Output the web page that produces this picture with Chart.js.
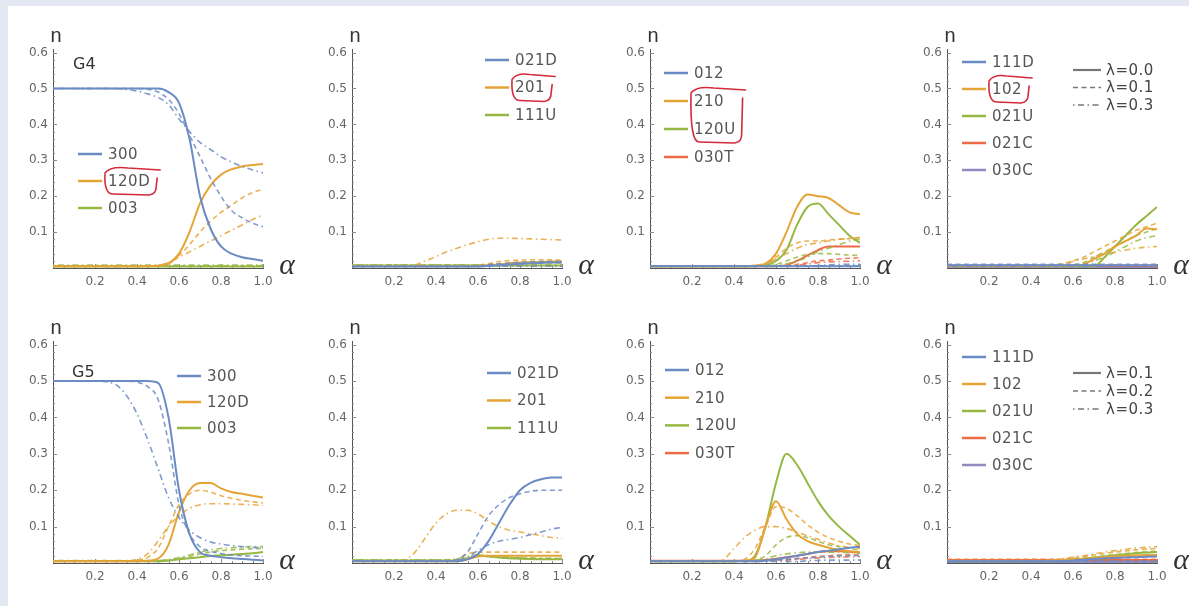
<!DOCTYPE html>
<html>
<head>
<meta charset="utf-8">
<script src="https://cdn.jsdelivr.net/npm/chart.js@4.4.1/dist/chart.umd.min.js"></script>
<style>
html, body { margin: 0; padding: 0; }
body { width: 1189px; height: 606px; background: #e4e8f2; position: relative; overflow: hidden; }
#sheet { position: absolute; left: 8px; top: 6px; right: 0; bottom: 0; background: #fff; }
canvas { position: absolute; }
</style>
</head>
<body>
<div id="sheet"></div>
<canvas id="c0"></canvas><canvas id="c1"></canvas><canvas id="c2"></canvas><canvas id="c3"></canvas>
<canvas id="c4"></canvas><canvas id="c5"></canvas><canvas id="c6"></canvas><canvas id="c7"></canvas>
<script>
// alpha grid and ticks
const alpha = [0, 0.05, 0.1, 0.15, 0.2, 0.25, 0.3, 0.35, 0.4, 0.45, 0.5, 0.55, 0.6, 0.65, 0.7, 0.75, 0.8, 0.85, 0.9, 0.95, 1.0];
const xTicks = [0.2, 0.4, 0.6, 0.8, 1.0];
const yTicks = [0.1, 0.2, 0.3, 0.4, 0.5, 0.6];
const lambdaRow1 = ['λ=0.0', 'λ=0.1', 'λ=0.3'];
const lambdaRow2 = ['λ=0.1', 'λ=0.2', 'λ=0.3'];
const panelTitles = ['G4', 'G5'];

// categories per column
const catsA = ['300', '120D', '003'];
const catsB = ['021D', '201', '111U'];
const catsC = ['012', '210', '120U', '030T'];
const catsD = ['111D', '102', '021U', '021C', '030C'];

// each series: [solid, dashed, dot-dashed]
// ---- G4 ----
const g4_300 = [
  [0.5,0.5,0.5,0.5,0.5,0.5,0.5,0.5,0.5,0.5,0.5,0.49,0.46,0.36,0.2,0.11,0.06,0.04,0.03,0.025,0.02],
  [0.5,0.5,0.5,0.5,0.5,0.5,0.5,0.5,0.5,0.498,0.49,0.47,0.43,0.37,0.31,0.25,0.2,0.16,0.14,0.125,0.115],
  [0.5,0.5,0.5,0.5,0.5,0.5,0.5,0.497,0.493,0.485,0.475,0.455,0.415,0.38,0.35,0.33,0.31,0.295,0.283,0.273,0.265]
];
const g4_120D = [
  [0.005,0.005,0.005,0.005,0.005,0.005,0.005,0.005,0.005,0.005,0.006,0.012,0.04,0.1,0.18,0.23,0.26,0.275,0.283,0.287,0.29],
  [0.005,0.005,0.005,0.005,0.005,0.005,0.005,0.005,0.005,0.005,0.007,0.015,0.035,0.065,0.1,0.13,0.155,0.175,0.195,0.21,0.22],
  [0.005,0.005,0.005,0.005,0.005,0.005,0.005,0.005,0.005,0.005,0.007,0.015,0.03,0.045,0.06,0.075,0.09,0.105,0.12,0.135,0.148]
];
const g4_003 = [
  [0.004,0.004,0.004,0.004,0.004,0.004,0.004,0.004,0.004,0.004,0.004,0.004,0.004,0.004,0.004,0.004,0.004,0.004,0.004,0.004,0.004],
  [0.006,0.006,0.006,0.006,0.006,0.006,0.006,0.006,0.006,0.006,0.006,0.006,0.006,0.006,0.006,0.006,0.006,0.006,0.006,0.006,0.006],
  [0.008,0.008,0.008,0.008,0.008,0.008,0.008,0.008,0.008,0.008,0.008,0.008,0.008,0.008,0.008,0.008,0.008,0.008,0.008,0.008,0.008]
];
const g4_021D = [
  [0.004,0.004,0.004,0.004,0.004,0.004,0.004,0.004,0.004,0.004,0.004,0.004,0.004,0.006,0.008,0.01,0.012,0.013,0.014,0.015,0.015],
  [0.004,0.004,0.004,0.004,0.004,0.004,0.004,0.004,0.004,0.004,0.004,0.004,0.006,0.009,0.012,0.014,0.016,0.017,0.018,0.018,0.018],
  [0.005,0.005,0.005,0.005,0.005,0.005,0.005,0.005,0.005,0.005,0.005,0.005,0.005,0.005,0.005,0.005,0.005,0.005,0.005,0.005,0.005]
];
const g4_201 = [
  [0.005,0.005,0.005,0.005,0.005,0.005,0.005,0.005,0.005,0.005,0.005,0.005,0.005,0.008,0.01,0.013,0.015,0.016,0.017,0.018,0.018],
  [0.005,0.005,0.005,0.005,0.005,0.005,0.005,0.005,0.005,0.005,0.005,0.005,0.008,0.012,0.018,0.021,0.022,0.023,0.023,0.023,0.022],
  [0.005,0.005,0.005,0.005,0.005,0.005,0.008,0.02,0.032,0.045,0.055,0.065,0.073,0.08,0.083,0.083,0.082,0.081,0.08,0.079,0.078]
];
const g4_111U = [
  [0.007,0.007,0.007,0.007,0.007,0.007,0.007,0.007,0.007,0.007,0.007,0.007,0.007,0.007,0.007,0.007,0.007,0.007,0.007,0.007,0.007],
  [0.008,0.008,0.008,0.008,0.008,0.008,0.008,0.008,0.008,0.008,0.008,0.008,0.008,0.01,0.012,0.013,0.014,0.014,0.014,0.014,0.014],
  [0.009,0.009,0.009,0.009,0.009,0.009,0.009,0.009,0.009,0.009,0.009,0.009,0.009,0.009,0.009,0.009,0.009,0.009,0.009,0.009,0.009]
];
const g4_012 = [
  [0.005,0.005,0.005,0.005,0.005,0.005,0.005,0.005,0.005,0.005,0.005,0.005,0.005,0.005,0.005,0.005,0.005,0.005,0.005,0.005,0.005],
  [0.006,0.006,0.006,0.006,0.006,0.006,0.006,0.006,0.006,0.006,0.006,0.006,0.006,0.006,0.006,0.006,0.006,0.006,0.006,0.006,0.006],
  [0.005,0.005,0.005,0.005,0.005,0.005,0.005,0.005,0.005,0.005,0.005,0.005,0.005,0.005,0.005,0.005,0.007,0.009,0.01,0.01,0.01]
];
const g4_210 = [
  [0.005,0.005,0.005,0.005,0.005,0.005,0.005,0.005,0.005,0.005,0.006,0.012,0.04,0.1,0.17,0.205,0.2,0.195,0.175,0.155,0.15],
  [0.005,0.005,0.005,0.005,0.005,0.005,0.005,0.005,0.005,0.005,0.007,0.01,0.03,0.055,0.07,0.075,0.075,0.078,0.08,0.082,0.085],
  [0.005,0.005,0.005,0.005,0.005,0.005,0.005,0.005,0.005,0.005,0.008,0.012,0.025,0.04,0.055,0.065,0.07,0.075,0.08,0.082,0.085]
];
const g4_120U = [
  [0.005,0.005,0.005,0.005,0.005,0.005,0.005,0.005,0.005,0.005,0.005,0.008,0.02,0.05,0.12,0.17,0.18,0.15,0.12,0.09,0.07],
  [0.005,0.005,0.005,0.005,0.005,0.005,0.005,0.005,0.005,0.005,0.005,0.005,0.01,0.02,0.03,0.038,0.04,0.04,0.038,0.036,0.035],
  [0.005,0.005,0.005,0.005,0.005,0.005,0.005,0.005,0.005,0.005,0.005,0.005,0.008,0.012,0.02,0.03,0.045,0.055,0.065,0.075,0.08]
];
const g4_030T = [
  [0.005,0.005,0.005,0.005,0.005,0.005,0.005,0.005,0.005,0.005,0.005,0.005,0.005,0.008,0.02,0.035,0.05,0.06,0.06,0.06,0.06],
  [0.005,0.005,0.005,0.005,0.005,0.005,0.005,0.005,0.005,0.005,0.005,0.005,0.005,0.005,0.01,0.015,0.02,0.022,0.025,0.027,0.028],
  [0.005,0.005,0.005,0.005,0.005,0.005,0.005,0.005,0.005,0.005,0.005,0.005,0.005,0.005,0.008,0.011,0.015,0.017,0.018,0.019,0.02]
];
const g4_111D = [
  [0.008,0.008,0.008,0.008,0.008,0.008,0.008,0.008,0.008,0.008,0.008,0.008,0.008,0.008,0.008,0.008,0.008,0.008,0.008,0.008,0.008],
  [0.01,0.01,0.01,0.01,0.01,0.01,0.01,0.01,0.01,0.01,0.01,0.01,0.01,0.01,0.01,0.01,0.01,0.01,0.01,0.01,0.01],
  [0.006,0.006,0.006,0.006,0.006,0.006,0.006,0.006,0.006,0.006,0.006,0.006,0.006,0.006,0.006,0.006,0.006,0.006,0.006,0.006,0.006]
];
const g4_102 = [
  [0.006,0.006,0.006,0.006,0.006,0.006,0.006,0.006,0.006,0.006,0.006,0.006,0.006,0.01,0.025,0.04,0.06,0.075,0.09,0.11,0.108],
  [0.006,0.006,0.006,0.006,0.006,0.006,0.006,0.006,0.006,0.006,0.008,0.012,0.02,0.03,0.045,0.06,0.075,0.09,0.105,0.115,0.125],
  [0.006,0.006,0.006,0.006,0.006,0.006,0.006,0.006,0.006,0.006,0.006,0.01,0.018,0.025,0.032,0.038,0.044,0.05,0.055,0.058,0.06]
];
const g4_021U = [
  [0.005,0.005,0.005,0.005,0.005,0.005,0.005,0.005,0.005,0.005,0.005,0.005,0.005,0.005,0.005,0.03,0.06,0.09,0.12,0.145,0.17],
  [0.005,0.005,0.005,0.005,0.005,0.005,0.005,0.005,0.005,0.005,0.005,0.005,0.008,0.015,0.03,0.045,0.06,0.075,0.09,0.1,0.11],
  [0.005,0.005,0.005,0.005,0.005,0.005,0.005,0.005,0.005,0.005,0.005,0.005,0.005,0.01,0.02,0.03,0.045,0.06,0.075,0.085,0.09]
];
const g4_021C = [
  [0.006,0.006,0.006,0.006,0.006,0.006,0.006,0.006,0.006,0.006,0.006,0.006,0.006,0.006,0.006,0.006,0.006,0.006,0.006,0.006,0.006],
  [0.005,0.005,0.005,0.005,0.005,0.005,0.005,0.005,0.005,0.005,0.005,0.005,0.005,0.005,0.005,0.005,0.005,0.005,0.005,0.005,0.005],
  [0.007,0.007,0.007,0.007,0.007,0.007,0.007,0.007,0.007,0.007,0.007,0.007,0.007,0.007,0.007,0.007,0.007,0.007,0.007,0.007,0.007]
];
const g4_030C = [
  [0.003,0.003,0.003,0.003,0.003,0.003,0.003,0.003,0.003,0.003,0.003,0.003,0.003,0.003,0.003,0.003,0.003,0.003,0.003,0.003,0.003],
  [0.003,0.003,0.003,0.003,0.003,0.003,0.003,0.003,0.003,0.003,0.003,0.003,0.003,0.003,0.003,0.003,0.003,0.003,0.003,0.003,0.003],
  [0.003,0.003,0.003,0.003,0.003,0.003,0.003,0.003,0.003,0.003,0.003,0.003,0.003,0.003,0.003,0.003,0.003,0.003,0.003,0.003,0.003]
];

// ---- G5 ----
const g5_300 = [
  [0.5,0.5,0.5,0.5,0.5,0.5,0.5,0.5,0.5,0.5,0.495,0.4,0.2,0.08,0.03,0.02,0.016,0.013,0.011,0.009,0.007],
  [0.5,0.5,0.5,0.5,0.5,0.5,0.5,0.5,0.497,0.485,0.45,0.33,0.16,0.08,0.045,0.032,0.026,0.022,0.02,0.019,0.018],
  [0.5,0.5,0.5,0.5,0.5,0.498,0.49,0.46,0.41,0.34,0.26,0.18,0.125,0.09,0.07,0.058,0.052,0.048,0.045,0.043,0.042]
];
const g5_120D = [
  [0.005,0.005,0.005,0.005,0.005,0.005,0.005,0.005,0.005,0.006,0.012,0.05,0.14,0.2,0.22,0.22,0.205,0.195,0.19,0.185,0.18],
  [0.005,0.005,0.005,0.005,0.005,0.005,0.005,0.005,0.008,0.015,0.04,0.1,0.16,0.19,0.2,0.195,0.185,0.178,0.172,0.168,0.165],
  [0.005,0.005,0.005,0.005,0.005,0.005,0.005,0.005,0.01,0.025,0.06,0.1,0.13,0.15,0.16,0.163,0.163,0.162,0.161,0.16,0.158]
];
const g5_003 = [
  [0.005,0.005,0.005,0.005,0.005,0.005,0.005,0.005,0.005,0.005,0.005,0.007,0.01,0.013,0.016,0.019,0.021,0.023,0.025,0.027,0.03],
  [0.006,0.006,0.006,0.006,0.006,0.006,0.006,0.006,0.006,0.006,0.006,0.008,0.012,0.018,0.025,0.03,0.034,0.036,0.038,0.039,0.04],
  [0.007,0.007,0.007,0.007,0.007,0.007,0.007,0.007,0.007,0.007,0.007,0.01,0.015,0.022,0.03,0.036,0.04,0.042,0.044,0.045,0.045]
];
const g5_021D = [
  [0.005,0.005,0.005,0.005,0.005,0.005,0.005,0.005,0.005,0.005,0.005,0.01,0.025,0.06,0.11,0.16,0.2,0.22,0.23,0.235,0.235],
  [0.005,0.005,0.005,0.005,0.005,0.005,0.005,0.005,0.005,0.005,0.01,0.03,0.08,0.13,0.16,0.18,0.19,0.197,0.2,0.2,0.2],
  [0.005,0.005,0.005,0.005,0.005,0.005,0.005,0.005,0.005,0.005,0.008,0.015,0.035,0.05,0.06,0.065,0.07,0.078,0.085,0.093,0.098]
];
const g5_201 = [
  [0.005,0.005,0.005,0.005,0.005,0.005,0.005,0.005,0.005,0.005,0.005,0.01,0.018,0.02,0.02,0.02,0.02,0.02,0.02,0.02,0.02],
  [0.005,0.005,0.005,0.005,0.005,0.005,0.005,0.005,0.005,0.005,0.01,0.025,0.03,0.03,0.03,0.03,0.03,0.03,0.03,0.03,0.03],
  [0.005,0.005,0.005,0.005,0.005,0.008,0.03,0.07,0.11,0.135,0.145,0.145,0.135,0.115,0.1,0.09,0.085,0.08,0.075,0.07,0.068]
];
const g5_111U = [
  [0.007,0.007,0.007,0.007,0.007,0.007,0.007,0.007,0.007,0.007,0.007,0.012,0.02,0.018,0.015,0.013,0.012,0.011,0.01,0.01,0.01],
  [0.008,0.008,0.008,0.008,0.008,0.008,0.008,0.008,0.008,0.008,0.008,0.015,0.022,0.02,0.017,0.015,0.014,0.013,0.012,0.012,0.012],
  [0.009,0.009,0.009,0.009,0.009,0.009,0.009,0.009,0.009,0.009,0.012,0.018,0.022,0.02,0.018,0.016,0.015,0.014,0.013,0.013,0.013]
];
const g5_012 = [
  [0.005,0.005,0.005,0.005,0.005,0.005,0.005,0.005,0.005,0.005,0.005,0.007,0.01,0.015,0.02,0.025,0.03,0.034,0.038,0.042,0.045],
  [0.005,0.005,0.005,0.005,0.005,0.005,0.005,0.005,0.005,0.005,0.005,0.006,0.008,0.01,0.012,0.014,0.016,0.018,0.019,0.02,0.02],
  [0.004,0.004,0.004,0.004,0.004,0.004,0.004,0.004,0.004,0.004,0.004,0.004,0.004,0.004,0.004,0.006,0.007,0.008,0.008,0.008,0.008]
];
const g5_210 = [
  [0.005,0.005,0.005,0.005,0.005,0.005,0.005,0.005,0.005,0.006,0.015,0.1,0.17,0.12,0.08,0.06,0.05,0.042,0.036,0.032,0.03],
  [0.005,0.005,0.005,0.005,0.005,0.005,0.005,0.005,0.005,0.01,0.04,0.1,0.155,0.15,0.13,0.105,0.085,0.07,0.06,0.052,0.048],
  [0.005,0.005,0.005,0.005,0.005,0.005,0.005,0.01,0.04,0.07,0.09,0.1,0.1,0.095,0.085,0.075,0.065,0.055,0.048,0.043,0.04]
];
const g5_120U = [
  [0.005,0.005,0.005,0.005,0.005,0.005,0.005,0.005,0.005,0.006,0.02,0.1,0.22,0.3,0.27,0.22,0.17,0.13,0.1,0.075,0.05],
  [0.005,0.005,0.005,0.005,0.005,0.005,0.005,0.005,0.005,0.005,0.008,0.02,0.05,0.07,0.075,0.07,0.06,0.05,0.045,0.04,0.035],
  [0.006,0.006,0.006,0.006,0.006,0.006,0.006,0.006,0.006,0.006,0.008,0.012,0.02,0.025,0.028,0.03,0.03,0.03,0.03,0.028,0.027]
];
const g5_030T = [
  [0.006,0.006,0.006,0.006,0.006,0.006,0.006,0.006,0.006,0.006,0.006,0.008,0.012,0.016,0.02,0.025,0.03,0.032,0.032,0.031,0.03],
  [0.006,0.006,0.006,0.006,0.006,0.006,0.006,0.006,0.006,0.006,0.006,0.006,0.008,0.01,0.012,0.015,0.018,0.02,0.022,0.023,0.024],
  [0.005,0.005,0.005,0.005,0.005,0.005,0.005,0.005,0.005,0.005,0.005,0.005,0.007,0.008,0.01,0.012,0.014,0.015,0.016,0.017,0.018]
];
const g5_111D = [
  [0.005,0.005,0.005,0.005,0.005,0.005,0.005,0.005,0.005,0.005,0.005,0.005,0.007,0.009,0.011,0.013,0.014,0.015,0.016,0.017,0.018],
  [0.004,0.004,0.004,0.004,0.004,0.004,0.004,0.004,0.004,0.004,0.004,0.004,0.004,0.004,0.004,0.004,0.004,0.004,0.004,0.004,0.004],
  [0.006,0.006,0.006,0.006,0.006,0.006,0.006,0.006,0.006,0.006,0.006,0.006,0.006,0.006,0.006,0.006,0.006,0.006,0.006,0.006,0.006]
];
const g5_102 = [
  [0.006,0.006,0.006,0.006,0.006,0.006,0.006,0.006,0.006,0.006,0.006,0.008,0.01,0.012,0.014,0.016,0.018,0.02,0.021,0.022,0.022],
  [0.006,0.006,0.006,0.006,0.006,0.006,0.006,0.006,0.006,0.006,0.008,0.01,0.014,0.018,0.022,0.026,0.03,0.033,0.036,0.038,0.04],
  [0.006,0.006,0.006,0.006,0.006,0.006,0.006,0.006,0.006,0.006,0.008,0.012,0.016,0.02,0.025,0.03,0.034,0.038,0.041,0.043,0.045]
];
const g5_021U = [
  [0.005,0.005,0.005,0.005,0.005,0.005,0.005,0.005,0.005,0.005,0.005,0.007,0.009,0.012,0.015,0.018,0.021,0.024,0.027,0.029,0.03],
  [0.005,0.005,0.005,0.005,0.005,0.005,0.005,0.005,0.005,0.005,0.005,0.007,0.01,0.013,0.016,0.02,0.023,0.026,0.029,0.031,0.033],
  [0.005,0.005,0.005,0.005,0.005,0.005,0.005,0.005,0.005,0.005,0.005,0.005,0.006,0.008,0.01,0.012,0.014,0.016,0.018,0.019,0.02]
];
const g5_021C = [
  [0.008,0.008,0.008,0.008,0.008,0.008,0.008,0.008,0.008,0.008,0.008,0.008,0.008,0.008,0.008,0.008,0.008,0.008,0.008,0.008,0.008],
  [0.01,0.01,0.01,0.01,0.01,0.01,0.01,0.01,0.01,0.01,0.01,0.01,0.01,0.01,0.01,0.01,0.01,0.01,0.01,0.01,0.01],
  [0.007,0.007,0.007,0.007,0.007,0.007,0.007,0.007,0.007,0.007,0.007,0.007,0.007,0.007,0.007,0.007,0.007,0.007,0.007,0.007,0.007]
];
const g5_030C = [
  [0.003,0.003,0.003,0.003,0.003,0.003,0.003,0.003,0.003,0.003,0.003,0.003,0.003,0.003,0.003,0.003,0.003,0.003,0.003,0.003,0.003],
  [0.003,0.003,0.003,0.003,0.003,0.003,0.003,0.003,0.003,0.003,0.003,0.003,0.003,0.003,0.003,0.003,0.003,0.003,0.003,0.003,0.003],
  [0.003,0.003,0.003,0.003,0.003,0.003,0.003,0.003,0.003,0.003,0.003,0.003,0.003,0.003,0.003,0.003,0.003,0.003,0.003,0.003,0.003]
];

// styling
const solidColors = ['#6a8bc3', '#e6a437', '#96b843', '#ee6b45', '#948ac0'];
const dashColors = ['rgba(106,139,195,0.85)', 'rgba(230,164,55,0.85)', 'rgba(150,184,67,0.85)', 'rgba(238,107,69,0.85)', 'rgba(148,138,192,0.85)'];
const dashes = [[], [5, 3.5], [1.5, 3.5, 6, 3.5]];
const axisX = [53, 352, 650, 947];
const rowTop = [49, 341];
const rowH = [219, 222];
const FONT = '"DejaVu Sans", "Liberation Sans", sans-serif';

function decor(cfg, cats, lambdas) {
  return {
    id: 'decor',
    beforeDatasetsDraw(chart) {
      const { ctx, chartArea: a, scales: { x, y } } = chart;
      ctx.save();
      ctx.strokeStyle = '#8a8a8a';
      ctx.lineWidth = 1;
      ctx.beginPath();
      for (let i = 1; i <= 20; i++) {
        const px = Math.round(x.getPixelForValue(i / 20)) + 0.5;
        const len = i % 4 === 0 ? 4 : 2;
        ctx.moveTo(px, a.bottom); ctx.lineTo(px, a.bottom - len);
      }
      for (let i = 1; i <= 30; i++) {
        const py = Math.round(y.getPixelForValue(i / 50)) + 0.5;
        const len = i % 5 === 0 ? 4 : 2;
        ctx.moveTo(a.left, py); ctx.lineTo(a.left + len, py);
      }
      ctx.stroke();
      ctx.restore();
    },
    afterDraw(chart) {
      const { ctx, chartArea: a } = chart;
      ctx.save();
      // axis names
      ctx.fillStyle = '#333';
      ctx.textAlign = 'center';
      ctx.textBaseline = 'alphabetic';
      ctx.font = '20px "Liberation Sans", sans-serif';
      ctx.fillText('n', a.left + 3, a.top - 7);
      ctx.font = 'italic 30px "Liberation Serif", serif';
      ctx.fillText('α', a.right + 24, a.bottom + 6);
      // panel title
      if (cfg.title) {
        ctx.textAlign = 'left';
        ctx.textBaseline = 'middle';
        ctx.font = '16px ' + FONT;
        ctx.fillStyle = '#333';
        ctx.fillText(cfg.title, a.left + cfg.title_dx, a.top + cfg.title_dy);
      }
      // category legend
      const lg = cfg.legend;
      const lx = a.left + lg.dx;
      ctx.font = '15px ' + FONT;
      ctx.letterSpacing = '0.5px';
      ctx.textAlign = 'left';
      ctx.textBaseline = 'middle';
      cats.forEach((c, i) => {
        const ly = a.top + lg.dy + i * lg.sp;
        ctx.strokeStyle = solidColors[i];
        ctx.lineWidth = 2.5;
        ctx.setLineDash([]);
        ctx.beginPath(); ctx.moveTo(lx, ly); ctx.lineTo(lx + 24, ly); ctx.stroke();
        ctx.fillStyle = '#555';
        ctx.fillText(c, lx + 30, ly + 1);
      });
      // lambda legend
      if (cfg.lam) {
        const mx = a.left + cfg.lam.dx;
        lambdas.forEach((t, s) => {
          const my = a.top + cfg.lam.dy + s * cfg.lam.sp;
          ctx.strokeStyle = '#777';
          ctx.lineWidth = s === 0 ? 2.2 : 1.5;
          ctx.setLineDash(dashes[s]);
          ctx.beginPath(); ctx.moveTo(mx, my); ctx.lineTo(mx + 28, my); ctx.stroke();
          ctx.fillStyle = '#444';
          ctx.fillText(t, mx + 33, my + 1);
        });
        ctx.setLineDash([]);
      }
      // red hand marks round highlighted legend entries
      if (cfg.mark) {
        const [k0, k1] = cfg.mark;
        let w = 0;
        for (let k = k0; k <= k1; k++) w = Math.max(w, ctx.measureText(cats[k]).width);
        const L = lx + 27, R = lx + 30 + w + 6;
        const T = a.top + lg.dy + k0 * lg.sp - 12, B = a.top + lg.dy + k1 * lg.sp + 13;
        ctx.strokeStyle = '#d42a3a';
        ctx.lineWidth = 1.6;
        ctx.lineCap = 'round';
        ctx.beginPath();
        ctx.moveTo(L, T + 4);
        ctx.quadraticCurveTo(L + 5, T - 3, L + (R - L) * 0.45, T - 1);
        ctx.lineTo(R + 4, T + 1);
        ctx.moveTo(L, T + 5);
        ctx.quadraticCurveTo(L - 1, B, L + 8, B);
        ctx.lineTo(R - 7, B + 1);
        ctx.quadraticCurveTo(R, B, R, B - 7);
        ctx.lineTo(R + 1, T + 9);
        ctx.stroke();
      }
      ctx.restore();
    }
  };
}

function makePanel(id, col, row, cats, series, cfg) {
  const cv = document.getElementById(id);
  const w = 287, h = 30 + rowH[row] + 26;
  cv.width = w; cv.height = h;
  cv.style.left = (axisX[col] - 45) + 'px';
  cv.style.top = (rowTop[row] - 30) + 'px';
  const lambdas = row === 0 ? lambdaRow1 : lambdaRow2;
  const datasets = [];
  cats.forEach((cat, i) => {
    series[i].forEach((vals, s) => {
      datasets.push({
        label: cat + ' ' + lambdas[s],
        data: vals.map((v, k) => ({ x: alpha[k], y: v })),
        borderColor: s === 0 ? solidColors[i] : dashColors[i],
        borderWidth: s === 0 ? 2 : 1.6,
        borderDash: dashes[s],
        pointRadius: 0,
        cubicInterpolationMode: 'monotone',
        fill: false
      });
    });
  });
  new Chart(cv, {
    type: 'line',
    data: { datasets },
    options: {
      responsive: false,
      animation: false,
      events: [],
      layout: { padding: { left: 5, top: 30, right: 32, bottom: 4 } },
      plugins: { legend: { display: false }, tooltip: { enabled: false } },
      scales: {
        x: {
          type: 'linear', min: 0, max: 1,
          afterBuildTicks: s => { s.ticks = xTicks.map(v => ({ value: v })); },
          afterFit: s => { s.height = 22; s.paddingLeft = 0; s.paddingRight = 0; },
          grid: { display: false, drawTicks: false },
          border: { display: true, color: '#555', width: 1 },
          ticks: { color: '#666', font: { family: FONT, size: 12 }, padding: 7, maxRotation: 0, autoSkip: false, callback: v => v.toFixed(1) }
        },
        y: {
          type: 'linear', min: 0, max: 0.61,
          afterBuildTicks: s => { s.ticks = yTicks.map(v => ({ value: v })); },
          afterFit: s => { s.width = 40; s.paddingTop = 0; s.paddingBottom = 0; },
          grid: { display: false, drawTicks: false },
          border: { display: true, color: '#555', width: 1 },
          ticks: { color: '#666', font: { family: FONT, size: 12 }, padding: 5, autoSkip: false, callback: v => v.toFixed(1) }
        }
      }
    },
    plugins: [decor(cfg, cats, lambdas)]
  });
}

makePanel('c0', 0, 0, catsA, [g4_300, g4_120D, g4_003],
  { title: panelTitles[0], title_dx: 20, title_dy: 16, legend: { dx: 25, dy: 105, sp: 27 }, mark: [1, 1] });
makePanel('c1', 1, 0, catsB, [g4_021D, g4_201, g4_111U],
  { legend: { dx: 133, dy: 11, sp: 27.5 }, mark: [1, 1] });
makePanel('c2', 2, 0, catsC, [g4_012, g4_210, g4_120U, g4_030T],
  { legend: { dx: 14, dy: 24, sp: 28 }, mark: [1, 2] });
makePanel('c3', 3, 0, catsD, [g4_111D, g4_102, g4_021U, g4_021C, g4_030C],
  { legend: { dx: 15, dy: 13, sp: 27 }, lam: { dx: 126, dy: 21, sp: 17.5 }, mark: [1, 1] });
makePanel('c4', 0, 1, catsA, [g5_300, g5_120D, g5_003],
  { title: panelTitles[1], title_dx: 19, title_dy: 32, legend: { dx: 124, dy: 35, sp: 26 } });
makePanel('c5', 1, 1, catsB, [g5_021D, g5_201, g5_111U],
  { legend: { dx: 135, dy: 32, sp: 27.5 } });
makePanel('c6', 2, 1, catsC, [g5_012, g5_210, g5_120U, g5_030T],
  { legend: { dx: 15, dy: 29, sp: 27.7 } });
makePanel('c7', 3, 1, catsD, [g5_111D, g5_102, g5_021U, g5_021C, g5_030C],
  { legend: { dx: 15, dy: 16, sp: 27 }, lam: { dx: 126, dy: 32, sp: 18 } });
</script>
</body>
</html>
